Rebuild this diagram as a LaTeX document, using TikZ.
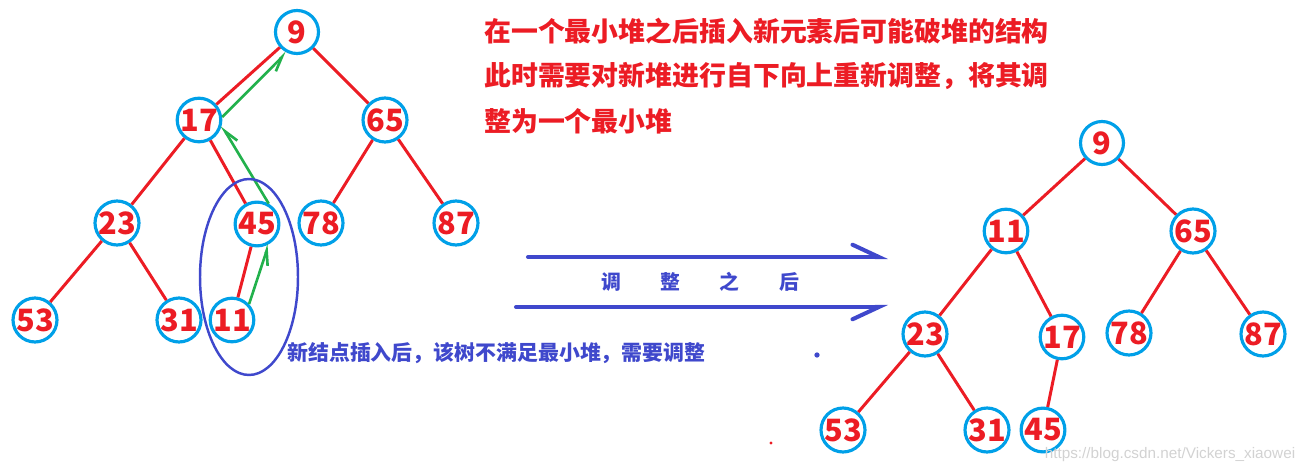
\documentclass[tikz,border=0pt]{standalone}
\usepackage{fontspec}
\setmainfont{Noto Sans CJK SC}
\newfontfamily\markfont{Liberation Sans}
\usetikzlibrary{arrows.meta}
\definecolor{nodeblue}{RGB}{0,160,232}
\definecolor{edgered}{RGB}{236,28,36}
\definecolor{pathgreen}{RGB}{34,177,76}
\definecolor{markblue}{RGB}{63,72,204}

\begin{document}
\begin{tikzpicture}[x=0.02cm,y=-0.02cm,
  heap/.style={circle,draw=nodeblue,line width=1.8pt,minimum size=0.86cm,inner sep=0pt,
    text=edgered,font=\bfseries\fontsize{17.5}{17.5}\selectfont},
  edge/.style={edgered,line width=1.7pt},
  moveup/.style={pathgreen,line width=1.5pt,-{Straight Barb[harpoon,swap,length=8pt,angle'=44]}},
  bigarrow/.style={markblue,line width=2.3pt,line cap=round},
  note/.style={text=edgered,font=\bfseries\fontsize{15.3}{15.3}\selectfont,anchor=base west,inner sep=0pt}]
\useasboundingbox (0,0) rectangle (1309,473);

% heap after inserting 11
\node[heap] (a9) at (297,32) {9};
\node[heap] (a17) at (199,120) {17};
\node[heap] (a65) at (385,120) {65};
\node[heap] (a23) at (117,223) {23};
\node[heap] (a45) at (257,224) {45};
\node[heap] (a78) at (321,223) {78};
\node[heap] (a87) at (456,223) {87};
\node[heap] (a53) at (35,320) {53};
\node[heap] (a31) at (179,320) {31};
\node[heap] (a11) at (232,320) {11};
\draw[edge] (a9)--(a17) (a9)--(a65) (a17)--(a23) (a17)--(a45) (a65)--(a78) (a65)--(a87)
  (a23)--(a53) (a23)--(a31) (a45)--(a11);

\draw[moveup] (a11.43)--(a45.-60);
\draw[moveup] (a45.60)--(a17.-14);
\draw[moveup] (a17.7)--(a9.-117);
\draw[markblue,line width=1.4pt] (249,277) ellipse [x radius=0.98cm,y radius=1.96cm];

% heap after adjusting
\node[heap] (b9) at (1102,143) {9};
\node[heap] (b11) at (1006,231) {11};
\node[heap] (b65) at (1193,231) {65};
\node[heap] (b23) at (925,334) {23};
\node[heap] (b17) at (1062,337) {17};
\node[heap] (b78) at (1129,333) {78};
\node[heap] (b87) at (1263,334) {87};
\node[heap] (b53) at (843,430) {53};
\node[heap] (b31) at (987,430) {31};
\node[heap] (b45) at (1043,430) {45};
\draw[edge] (b9)--(b11) (b9)--(b65) (b11)--(b23) (b11)--(b17) (b65)--(b78) (b65)--(b87)
  (b23)--(b53) (b23)--(b31) (b17)--(b45);

\coordinate (s1) at (528,257);
\coordinate (e1) at (888,257);
\coordinate (s2) at (516,307);
\coordinate (e2) at (888,307);
\draw[bigarrow,-{Straight Barb[harpoon,length=15pt,angle'=50,line cap=round]}] (s1)--(e1);
\draw[bigarrow,-{Straight Barb[harpoon,swap,length=15pt,angle'=50,line cap=round]}] (s2)--(e2);
\node[text=markblue,font=\bfseries\fontsize{11.3}{11.3}\selectfont] (adjust) at (700,282)
  {调\hspace{22.5pt}整\hspace{22.5pt}之\hspace{22.5pt}后};

\node[note] (line1) at (484,42) {在一个最小堆之后插入新元素后可能破堆的结构};
\node[note] (line2) at (484,86) {此时需要对新堆进行自下向上重新调整，将其调};
\node[note] (line3) at (484,132) {整为一个最小堆};
\node[text=markblue,font=\bfseries\fontsize{11.9}{11.9}\selectfont,anchor=west,inner sep=0pt]
  (remark) at (287,353) {新结点插入后，该树不满足最小堆，需要调整};

\fill[markblue] (817,355) circle (1.5pt);
\fill[edgered] (771,443) circle (0.9pt);
\node[text=gray!35,font=\markfont\fontsize{8.7}{8.7}\selectfont] (mark) at (1170,455)
  {https://blog.csdn.net/Vickers\_xiaowei};
\end{tikzpicture}
\end{document}
